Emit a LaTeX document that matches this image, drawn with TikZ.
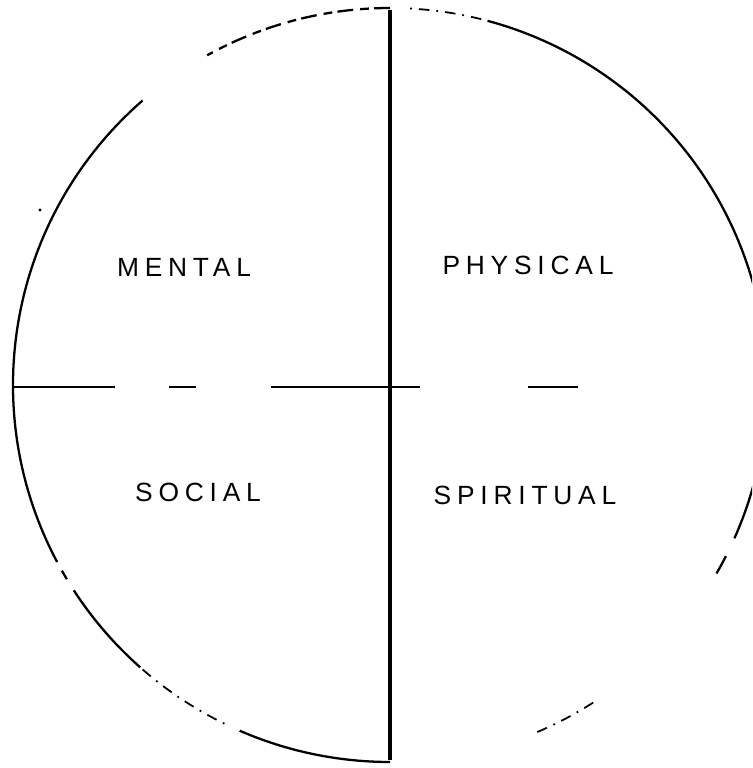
\documentclass[tikz,border=0pt]{standalone}
\usepackage{fontspec}
\setmainfont{Liberation Sans}
\usetikzlibrary{calc}
\tikzset{
  quadlbl/.style={font=\fontsize{15}{17}\selectfont\addfontfeatures{LetterSpace=22}, inner sep=0pt},
  rim/.style={draw=black, line width=1.3pt},
  rimdash/.style={rim, dash pattern=on 9pt off 3pt on 5pt off 4pt},
  rimdot/.style={draw=black, line width=1pt, dash pattern=on 6pt off 4pt on 1pt off 4pt},
  axisv/.style={draw=black, line width=2.2pt},
  axish/.style={draw=black, line width=1pt,
    dash pattern=on 58.4pt off 31.2pt on 15.3pt off 42.5pt on 85pt off 61.2pt on 28.4pt},
}

\begin{document}
\begin{tikzpicture}[x=0.02cm, y=0.02cm]
\useasboundingbox (0,0) rectangle (752,768);
\clip (0,0) rectangle (752,768);

\coordinate (ctr) at (390,383);
\coordinate (top) at (390,758);
\coordinate (bot) at (390,8);
\coordinate (west) at (12,381);
\coordinate (east) at (578,381);

% rim of the circle, broken as in the drawing
\draw[rimdash] (ctr) ++(90:377) arc[start angle=90, end angle=119, radius=377];
\draw[rimdot] (ctr) ++(76:377) arc[start angle=76, end angle=88, radius=377];
\draw[rim] (ctr) ++(131:377) arc[start angle=131, end angle=208, radius=377];
\draw[rim] (ctr) ++(209.5:377) arc[start angle=209.5, end angle=211, radius=377];
\draw[rim] (ctr) ++(213:377) arc[start angle=213, end angle=228.5, radius=377];
\draw[rimdot] (ctr) ++(229:377) arc[start angle=229, end angle=244, radius=377];
\draw[rim] (ctr) ++(246.5:377) arc[start angle=246.5, end angle=270, radius=377];
\draw[rim] (ctr) ++(-24:377) arc[start angle=-24, end angle=75, radius=377];
\draw[rim] (ctr) ++(-30:377) arc[start angle=-30, end angle=-27, radius=377];
\draw[rimdot] (ctr) ++(-67:377) arc[start angle=-67, end angle=-57, radius=377];
\fill (40,558) circle (1.6);

\draw[axisv] (top) -- (bot);
\draw[axish] (west) -- (east);

\node[quadlbl] (mental)    at (184,501) {MENTAL};
\node[quadlbl] (physical)  at (528,503) {PHYSICAL};
\node[quadlbl] (social)    at (198,276) {SOCIAL};
\node[quadlbl] (spiritual) at (525,273) {SPIRITUAL};

\end{tikzpicture}
\end{document}
